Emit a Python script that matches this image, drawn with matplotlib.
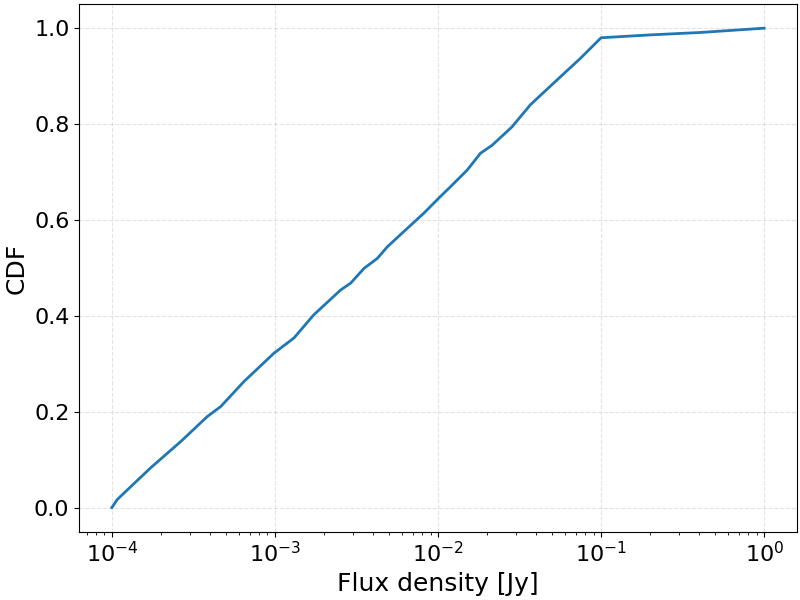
import numpy as np
import matplotlib
matplotlib.use("Agg")
import matplotlib.pyplot as plt

# flux density [Jy] and cumulative fraction
flux = [1.0e-4, 1.08e-4, 1.73e-4, 2.65e-4, 3.85e-4, 4.66e-4, 6.46e-4, 9.86e-4,
        1.31e-3, 1.73e-3, 2.53e-3, 2.91e-3, 3.52e-3, 4.25e-3, 4.89e-3, 6.18e-3,
        8.18e-3, 1.035e-2, 1.19e-2, 1.51e-2, 1.82e-2, 2.15e-2, 2.84e-2, 3.68e-2,
        4.25e-2, 5.37e-2, 7.46e-2, 0.1, 0.2, 0.405, 1.0]
cdf = [0.0, 0.017, 0.083, 0.138, 0.190, 0.211, 0.263, 0.322,
       0.354, 0.402, 0.454, 0.468, 0.499, 0.520, 0.544, 0.576,
       0.614, 0.649, 0.669, 0.704, 0.739, 0.756, 0.794, 0.840,
       0.860, 0.892, 0.937, 0.980, 0.986, 0.991, 1.0]

fig, ax = plt.subplots(figsize=(8, 6), dpi=100)
ax.plot(flux, cdf, color="#1f77b4", linewidth=2)
ax.set_xscale("log")
ax.set_xlabel("Flux density [Jy]", fontsize=18)
ax.set_ylabel("CDF", fontsize=18)
ax.tick_params(axis="both", labelsize=16)
ax.grid(True, which="major", linestyle="--", alpha=0.35)

fig.subplots_adjust(left=0.099, right=0.996, top=0.993, bottom=0.114)
plt.savefig("out.png")
